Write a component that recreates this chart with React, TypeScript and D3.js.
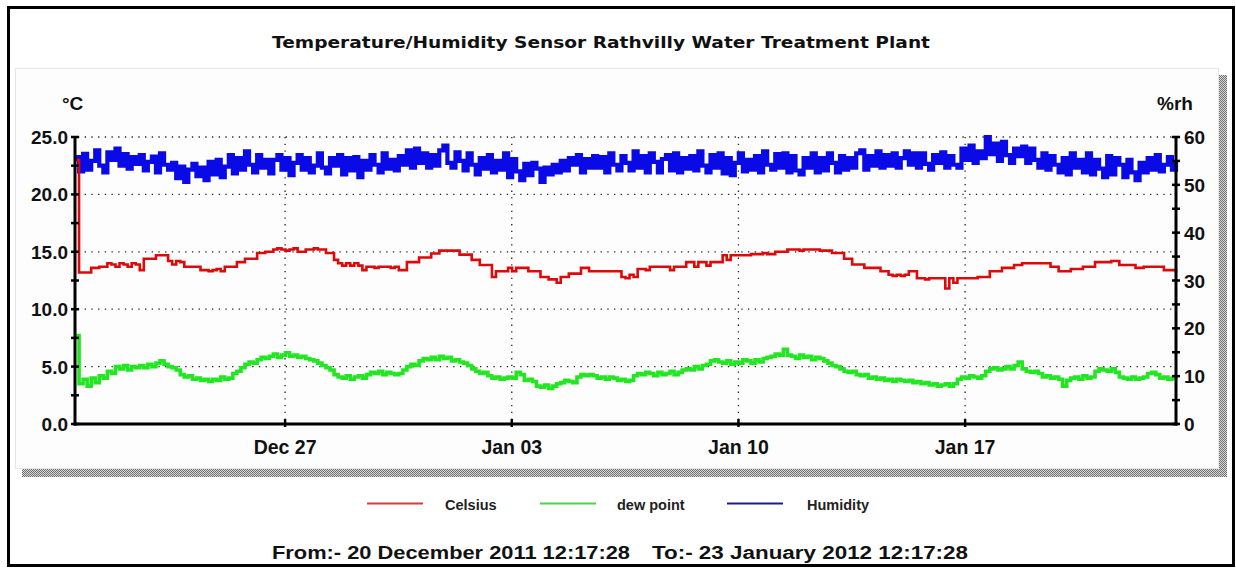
import React from "react";
import * as d3 from "d3";

// ---------- data ----------
const START = "2011-12-20 12:17:28";
const END = "2012-01-23 12:17:28";
const SAMPLE_HOURS = 3;
const xTickDates = ["2011-12-27", "2012-01-03", "2012-01-10", "2012-01-17"];
const leftTicks = [0, 5, 10, 15, 20, 25];
const rightTicks = [0, 10, 20, 30, 40, 50, 60];
const legendItems = ["Celsius", "dew point", "Humidity"];

// Celsius, one reading every 3 hours
const celsius = [
  23.0, 13.2, 13.2, 13.2, 13.6, 13.6, 13.7, 13.7,
  14.0, 13.9, 13.7, 14.0, 13.9, 13.7, 14.0, 13.9,
  13.4, 14.4, 14.4, 14.4, 14.7, 14.7, 14.7, 14.2,
  13.9, 14.2, 14.1, 13.7, 13.7, 13.7, 13.7, 13.4,
  13.4, 13.3, 13.4, 13.5, 13.3, 13.7, 13.7, 13.7,
  14.1, 14.1, 14.4, 14.4, 14.4, 14.9, 14.9, 15.0,
  15.0, 15.2, 15.3, 15.2, 15.1, 15.2, 15.3, 15.0,
  15.0, 15.2, 15.2, 15.3, 15.2, 15.2, 14.9, 14.9,
  14.3, 14.0, 13.8, 14.0, 13.8, 14.0, 13.8, 13.4,
  13.7, 13.7, 13.6, 13.7, 13.7, 13.7, 13.6, 13.7,
  13.4, 13.4, 14.1, 14.1, 14.1, 14.5, 14.5, 14.5,
  14.85, 14.85, 15.1, 15.1, 15.1, 15.1, 15.1, 14.75,
  14.75, 14.75, 14.3, 14.3, 13.85, 13.85, 13.85, 12.8,
  13.3, 13.3, 13.3, 13.6, 13.3, 13.6, 13.6, 13.6,
  13.3, 13.3, 13.3, 12.8, 12.8, 12.6, 12.6, 12.3,
  12.8, 12.8, 13.1, 13.1, 13.1, 13.6, 13.6, 13.3,
  13.3, 13.3, 13.3, 13.3, 13.3, 13.3, 13.3, 12.8,
  12.7, 13.0, 12.8, 13.5, 13.5, 13.4, 13.7, 13.7,
  13.7, 13.7, 13.7, 13.4, 13.7, 13.7, 13.7, 14.1,
  14.1, 13.7, 14.1, 14.1, 13.8, 14.1, 14.1, 14.1,
  14.7, 14.3, 14.7, 14.7, 14.7, 14.7, 14.7, 14.8,
  14.8, 14.8, 14.9, 14.8, 14.8, 15.0, 15.0, 15.0,
  15.2, 15.2, 15.2, 15.1, 15.2, 15.2, 15.2, 15.2,
  15.1, 15.1, 15.1, 14.9, 14.9, 14.9, 14.4, 14.4,
  13.9, 13.9, 13.9, 13.6, 13.6, 13.6, 13.6, 13.3,
  13.3, 13.0, 12.9, 13.0, 12.9, 13.0, 13.3, 13.3,
  12.7, 12.7, 12.6, 12.7, 12.7, 12.7, 12.7, 11.8,
  12.7, 12.3, 12.7, 12.7, 12.7, 12.7, 12.7, 12.8,
  12.8, 12.8, 13.3, 13.3, 13.3, 13.6, 13.6, 13.6,
  13.85, 13.85, 14.0, 14.0, 14.0, 14.0, 14.0, 14.0,
  14.0, 13.7, 13.7, 13.3, 13.3, 13.3, 13.5, 13.5,
  13.5, 13.7, 13.7, 13.7, 14.1, 14.1, 14.1, 14.1,
  14.2, 14.2, 13.85, 13.85, 13.85, 13.85, 13.6, 13.6,
  13.7, 13.7, 13.7, 13.7, 13.7, 13.4, 13.4, 13.4,
  13.2,
];

// dew point (°C), one reading every 3 hours
const dewPoint = [
  7.7, 3.5, 3.9, 3.3, 4.0, 3.6, 4.2, 4.0,
  4.6, 4.4, 5.0, 4.8, 5.1, 4.7, 5.0, 4.9,
  5.1, 4.9, 5.2, 5.0, 5.3, 5.5, 5.2, 5.0,
  4.9, 4.7, 4.3, 4.1, 4.2, 3.9, 4.0, 3.8,
  3.9, 3.7, 3.9, 3.8, 4.1, 3.9, 4.0, 4.4,
  4.6, 4.9, 5.2, 5.4, 5.3, 5.6, 5.8, 5.7,
  5.9, 6.1, 5.8, 6.0, 6.2, 5.9, 6.0, 5.8,
  5.9, 5.7, 5.6, 5.5, 5.3, 5.1, 4.9, 4.7,
  4.3, 4.1, 4.0, 4.2, 3.9, 4.1, 4.2, 4.0,
  4.3, 4.5, 4.4, 4.6, 4.3, 4.5, 4.4, 4.3,
  4.4, 4.7, 5.0, 5.2, 5.1, 5.5, 5.7, 5.6,
  5.8, 5.6, 5.9, 5.7, 5.8, 5.5, 5.6, 5.4,
  5.3, 5.1, 4.8, 4.6, 4.4, 4.5, 4.2, 4.0,
  4.1, 3.9, 4.0, 4.1, 4.0, 4.5, 4.3, 3.8,
  3.9, 3.7, 3.3, 3.2, 3.4, 3.1, 3.3, 3.5,
  3.6, 3.8, 3.7, 3.6, 4.1, 4.3, 4.2, 4.3,
  4.2, 4.0, 4.1, 3.9, 4.1, 4.0, 3.8, 3.9,
  3.7, 3.8, 4.2, 4.4, 4.3, 4.5, 4.4, 4.2,
  4.5, 4.3, 4.4, 4.6, 4.3, 4.5, 4.7, 4.8,
  4.7, 5.0, 4.8, 5.1, 5.2, 5.5, 5.6, 5.4,
  5.3, 5.5, 5.2, 5.4, 5.3, 5.6, 5.5, 5.3,
  5.6, 5.4, 5.7, 5.8, 5.9, 6.1, 6.0, 6.5,
  6.0, 5.9, 5.7, 6.0, 5.8, 5.9, 5.6, 5.8,
  5.7, 5.5, 5.3, 5.1, 5.0, 4.8, 4.6, 4.5,
  4.6, 4.3, 4.2, 4.3, 4.0, 4.1, 3.9, 4.0,
  3.8, 3.9, 3.7, 3.9, 3.8, 3.7, 3.8, 3.6,
  3.7, 3.5, 3.6, 3.4, 3.5, 3.3, 3.4, 3.5,
  3.3, 3.5, 3.9, 4.1, 4.0, 4.2, 4.1, 4.0,
  4.2, 4.6, 4.8, 4.9, 4.7, 4.8, 5.0, 4.8,
  5.1, 5.4, 4.8, 4.6, 4.5, 4.6, 4.4, 4.1,
  4.2, 4.0, 4.1, 3.9, 3.3, 3.8, 4.0, 4.1,
  3.9, 4.2, 4.0, 4.1, 4.6, 4.8, 4.7, 4.6,
  4.8, 4.5, 4.1, 4.0, 3.9, 4.1, 3.9, 4.0,
  4.1, 4.4, 4.5, 4.3, 4.0, 4.1, 3.9, 4.0,
  3.9,
];

// relative humidity (%rh), one reading every 3 hours
const humidity = [
  55.8, 52.8, 56.5, 53.2, 55.0, 57.2, 54.0, 52.6,
  56.8, 55.2, 57.6, 54.0, 56.4, 53.4, 55.8, 54.4,
  56.2, 53.0, 54.8, 55.9, 52.6, 56.6, 54.2, 53.2,
  54.6, 51.4, 53.8, 50.6, 53.2, 54.4, 51.8, 53.6,
  51.0, 54.8, 52.2, 55.2, 51.6, 53.8, 56.2, 52.4,
  55.6, 53.2, 57.0, 54.2, 52.6, 56.2, 53.6, 55.2,
  52.4, 55.2, 56.2, 53.2, 55.6, 52.0, 54.6, 56.2,
  53.2, 55.6, 52.6, 54.0, 56.6, 53.6, 52.4, 55.6,
  54.0, 56.2, 52.2, 55.6, 53.0, 55.8, 51.6, 55.0,
  53.2, 56.2, 54.2, 52.6, 56.6, 53.4, 55.2, 53.0,
  56.0, 54.2, 57.2, 53.6, 57.6, 54.6, 56.6, 53.6,
  56.2, 54.0, 57.2, 58.2, 54.6, 53.6, 56.8, 55.0,
  53.0, 56.6, 54.2, 52.2, 55.6, 53.4, 56.2, 52.6,
  55.0, 53.2, 56.6, 51.6, 55.4, 52.8, 51.0, 54.4,
  52.0, 54.6, 53.4, 50.6, 53.6, 52.2, 54.2, 52.6,
  55.0, 53.0, 55.6, 54.2, 56.2, 52.6, 55.4, 53.6,
  56.0, 53.6, 55.8, 52.6, 56.6, 54.2, 53.0, 56.0,
  54.6, 53.0, 57.0, 53.6, 56.0, 52.6, 56.6, 54.8,
  52.6, 55.4, 56.2, 53.0, 56.6, 52.6, 55.6, 53.4,
  56.0, 53.0, 57.0, 54.0, 52.6, 56.2, 53.6, 56.6,
  52.4, 55.6, 52.0, 54.6, 56.6, 52.8, 55.2, 53.2,
  56.0, 52.6, 57.0, 54.2, 53.2, 56.4, 53.6, 56.6,
  52.6, 56.0, 53.0, 52.2, 55.6, 53.6, 56.6, 52.6,
  55.6, 53.0, 56.6, 54.6, 52.6, 56.0, 53.2, 55.6,
  53.6, 56.6, 57.2, 53.2, 56.0, 54.0, 57.0, 53.6,
  56.2, 54.0, 56.6, 53.6, 55.6, 57.0, 54.2, 56.6,
  53.6, 56.6, 54.4, 53.2, 56.2, 54.6, 56.8, 53.6,
  56.0, 54.2, 53.6, 57.6, 55.2, 58.2, 54.6, 57.0,
  55.6, 60.0, 56.4, 58.6, 55.0, 59.0, 56.2, 54.6,
  57.6, 56.0, 58.0, 54.6, 57.6, 55.2, 53.6, 56.6,
  53.2, 56.0, 54.2, 52.6, 55.6, 52.2, 56.6, 53.6,
  55.2, 52.6, 56.6, 52.2, 55.2, 53.4, 51.6, 56.0,
  52.2, 55.6, 54.2, 51.6, 55.2, 52.6, 51.0, 54.6,
  52.6, 55.6, 53.2, 56.2, 52.8, 54.2, 55.8, 53.2,
  55.0,
];

const parseDT = d3.timeParse("%Y-%m-%d %H:%M:%S");
const parseD = d3.timeParse("%Y-%m-%d");
const fmtTick = d3.timeFormat("%b %d");
const fmtFrom = d3.timeFormat("%-d %B %Y %H:%M:%S");

const FONT = "'Liberation Sans', Arial, Helvetica, sans-serif";

export default function App() {
  const W = 1236;
  const H = 568;
  const x0 = 75, x1 = 1176, yTop = 137, yBot = 424;
  const start = parseDT(START) as Date;
  const end = parseDT(END) as Date;

  const x = d3.scaleTime().domain([start, end]).range([x0, x1]);
  const yL = d3.scaleLinear().domain([0, 25]).range([yBot, yTop]);
  const yR = d3.scaleLinear().domain([0, 60]).range([yBot, yTop]);
  const t = (i: number) => d3.timeHour.offset(start, i * SAMPLE_HOURS);

  const lineL = d3
    .line<number>()
    .x((_, i) => x(t(i)))
    .y((d) => yL(d))
    .curve(d3.curveStepAfter);
  const lineR = d3
    .line<number>()
    .x((_, i) => x(t(i)))
    .y((d) => yR(d))
    .curve(d3.curveStepAfter);

  const leftMinor = d3.range(0, 25.01, 2.5);
  const rightMinor = d3.range(0, 60.01, 5);
  const xTicks = xTickDates.map((s) => parseD(s) as Date);

  const legendX = [367, 540, 727];
  const legendColors = ["#d23c3c", "#4cd24c", "#1c1c86"];
  const legendTextX = [445, 617, 807];

  return (
    <svg
      width={W}
      height={H}
      style={{ position: "absolute", left: 0, top: 0, background: "#fff" }}
      fontFamily={FONT}
    >
      <defs>
        <pattern id="dither" width="2" height="2" patternUnits="userSpaceOnUse">
          <rect width="2" height="2" fill="#d8d8d8" />
          <rect width="1" height="1" fill="#707070" />
          <rect x="1" y="1" width="1" height="1" fill="#707070" />
        </pattern>
      </defs>

      {/* outer frame */}
      <rect x={8.5} y={7.5} width={1225} height={558} fill="#fff" stroke="#000" strokeWidth={3} />

      {/* title */}
      <text
        x={601}
        y={48}
        textAnchor="middle"
        fontFamily="'DejaVu Sans', Verdana, sans-serif"
        fontWeight="bold"
        fontSize={16}
        textLength={658}
        lengthAdjust="spacingAndGlyphs"
        fill="#111"
      >
        Temperature/Humidity Sensor Rathvilly Water Treatment Plant
      </text>

      {/* panel shadow */}
      <rect x={1219} y={75} width={8} height={402} fill="url(#dither)" />
      <rect x={22} y={469} width={1205} height={8} fill="url(#dither)" />
      {/* panel */}
      <rect x={15.5} y={68.5} width={1203} height={400} fill="#fdfdfd" stroke="#e6e6e6" strokeWidth={1} />

      {/* axis unit labels */}
      <text x={62} y={110} fontWeight="bold" fontSize={19} fill="#111">°C</text>
      <text x={1157} y={110} fontWeight="bold" fontSize={19} fill="#111">%rh</text>

      {/* horizontal grid */}
      {leftTicks
        .filter((v) => v > 0)
        .map((v) => (
          <line
            key={"hg" + v}
            x1={x0 + 3}
            x2={x1 - 2}
            y1={yL(v)}
            y2={yL(v)}
            stroke="#222"
            strokeWidth={1.3}
            strokeDasharray="1.3 5.4"
          />
        ))}
      {/* vertical grid */}
      {xTicks.map((d, i) => (
        <line
          key={"vg" + i}
          x1={x(d)}
          x2={x(d)}
          y1={yTop}
          y2={yBot}
          stroke="#222"
          strokeWidth={1.3}
          strokeDasharray="1.3 5.4"
        />
      ))}

      {/* series */}
      <path d={lineR(humidity) || ""} fill="none" stroke="#0a0ae6" strokeWidth={4.2} />
      <path d={lineL(dewPoint) || ""} fill="none" stroke="#22e622" strokeWidth={3.6} />
      <path d={lineL(celsius) || ""} fill="none" stroke="#dc0a0a" strokeWidth={2.6} />

      {/* left axis */}
      <line x1={x0} x2={x0} y1={yTop} y2={yBot + 1.5} stroke="#000" strokeWidth={3} />
      {leftMinor.map((v) => (
        <line key={"lt" + v} x1={x0 - 4} x2={x0 + 4} y1={yL(v)} y2={yL(v)} stroke="#000" strokeWidth={2.5} />
      ))}
      {leftTicks.map((v) => (
        <text
          key={"ll" + v}
          x={68}
          y={yL(v) + 7}
          textAnchor="end"
          fontWeight="bold"
          fontSize={19}
          fill="#111"
        >
          {v.toFixed(1)}
        </text>
      ))}

      {/* right axis */}
      <line x1={x1} x2={x1} y1={yTop} y2={yBot + 1.5} stroke="#000" strokeWidth={3} />
      {rightMinor.map((v) => (
        <line key={"rt" + v} x1={x1 - 4} x2={x1 + 4} y1={yR(v)} y2={yR(v)} stroke="#000" strokeWidth={2.5} />
      ))}
      {rightTicks.map((v) => (
        <text key={"rl" + v} x={1184} y={yR(v) + 7} fontWeight="bold" fontSize={19} fill="#111">
          {v}
        </text>
      ))}

      {/* bottom axis */}
      <line x1={x0 - 1.5} x2={x1 + 1.5} y1={yBot} y2={yBot} stroke="#000" strokeWidth={3} />
      {xTicks.map((d, i) => (
        <g key={"xt" + i}>
          <line x1={x(d)} x2={x(d)} y1={yBot - 5} y2={yBot + 3} stroke="#000" strokeWidth={2.5} />
          <text x={x(d)} y={454} textAnchor="middle" fontWeight="bold" fontSize={19.5} fill="#111">
            {fmtTick(d)}
          </text>
        </g>
      ))}

      {/* legend */}
      {legendItems.map((name, i) => (
        <g key={name}>
          <line
            x1={legendX[i]}
            x2={legendX[i] + 56}
            y1={503.5}
            y2={503.5}
            stroke={legendColors[i]}
            strokeWidth={2}
          />
          <text x={legendTextX[i]} y={510} fontWeight="bold" fontSize={14.5} fill="#222">
            {name}
          </text>
        </g>
      ))}

      {/* period text */}
      <text x={272} y={559} fontWeight="bold" fontSize={18} fill="#111" textLength={358} lengthAdjust="spacingAndGlyphs">
        {"From:- " + fmtFrom(start)}
      </text>
      <text x={652} y={559} fontWeight="bold" fontSize={18} fill="#111" textLength={316} lengthAdjust="spacingAndGlyphs">
        {"To:-  " + fmtFrom(end)}
      </text>
    </svg>
  );
}
